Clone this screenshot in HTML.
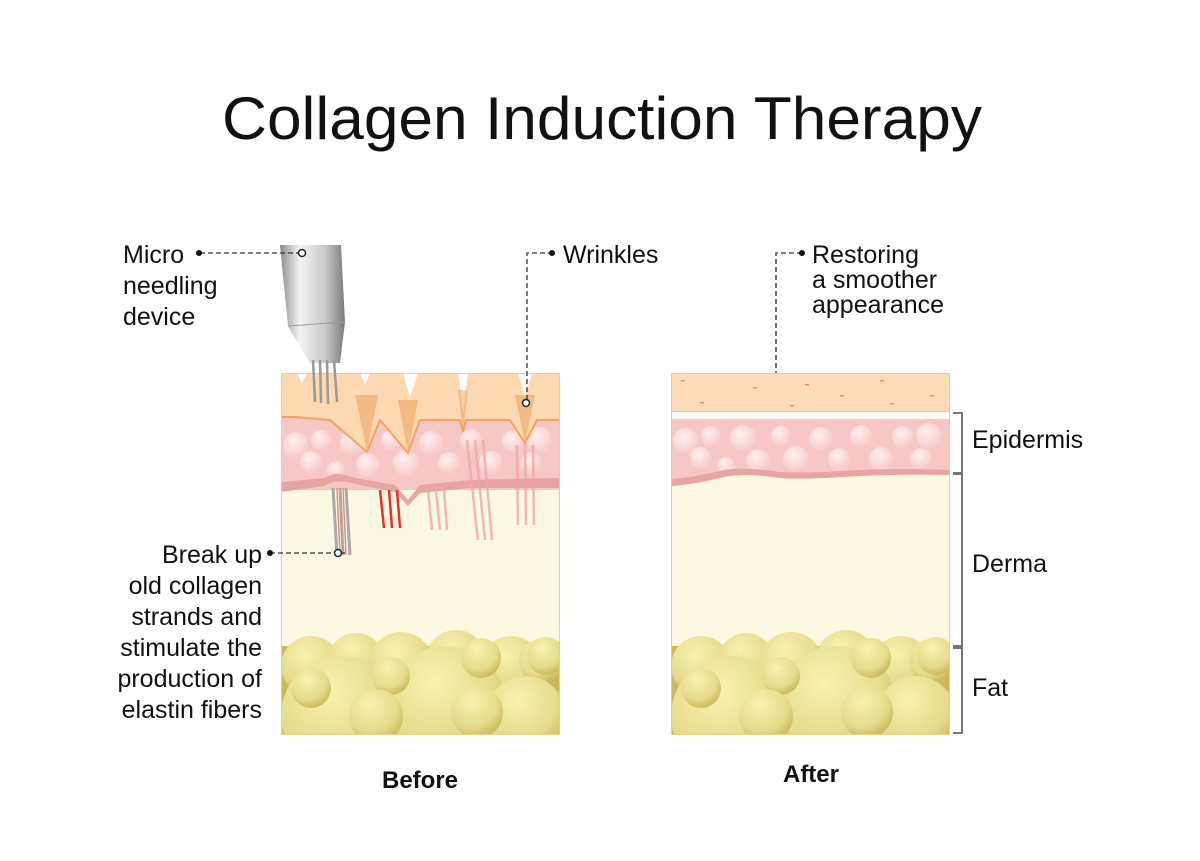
<!DOCTYPE html>
<html><head><meta charset="utf-8"><style>
html,body{margin:0;padding:0;background:#fff;}
svg{display:block}
text{font-family:"Liberation Sans",sans-serif;fill:#111}
</style></head><body>
<svg width="1200" height="861" viewBox="0 0 1200 861" xmlns="http://www.w3.org/2000/svg">
<defs>
<radialGradient id="fat" cx="0.4" cy="0.3" r="0.7"><stop offset="0" stop-color="#f8f3b0"/><stop offset="0.7" stop-color="#e6da8c"/><stop offset="1" stop-color="#cdbb5c"/></radialGradient>
<radialGradient id="cell" cx="0.4" cy="0.35" r="0.7"><stop offset="0" stop-color="#fff0ee"/><stop offset="1" stop-color="#f6c8c6"/></radialGradient>
<linearGradient id="dev" x1="0" x2="1"><stop offset="0" stop-color="#8a8a8a"/><stop offset="0.3" stop-color="#f4f4f4"/><stop offset="0.7" stop-color="#c8c8c8"/><stop offset="1" stop-color="#7a7a7a"/></linearGradient>
<clipPath id="cb"><rect x="281" y="373" width="279" height="362"/></clipPath>
<clipPath id="ca"><rect x="671" y="373" width="279" height="362"/></clipPath>
<g id="fatg">
<rect x="0" y="0" width="279" height="90" fill="#cdb75a"/>
<circle cx="30" cy="20" r="30" fill="url(#fat)"/><circle cx="75" cy="15" r="28" fill="url(#fat)"/>
<circle cx="120" cy="18" r="32" fill="url(#fat)"/><circle cx="175" cy="14" r="30" fill="url(#fat)"/>
<circle cx="230" cy="20" r="30" fill="url(#fat)"/><circle cx="260" cy="15" r="22" fill="url(#fat)"/>
<circle cx="60" cy="70" r="60" fill="url(#fat)"/><circle cx="165" cy="60" r="60" fill="url(#fat)"/>
<circle cx="245" cy="70" r="40" fill="url(#fat)"/><circle cx="30" cy="42" r="20" fill="url(#fat)"/>
<circle cx="110" cy="30" r="19" fill="url(#fat)"/><circle cx="200" cy="12" r="20" fill="url(#fat)"/>
<circle cx="95" cy="70" r="27" fill="url(#fat)"/><circle cx="196" cy="66" r="26" fill="url(#fat)"/>
<circle cx="265" cy="10" r="19" fill="url(#fat)"/>
</g>
<g id="cells">
<circle cx="15" cy="20" r="13" fill="url(#cell)"/><circle cx="40" cy="15" r="10" fill="url(#cell)"/><circle cx="30" cy="37" r="11" fill="url(#cell)"/>
<circle cx="72" cy="17" r="13" fill="url(#cell)"/><circle cx="87" cy="40" r="12" fill="url(#cell)"/><circle cx="110" cy="15" r="10" fill="url(#cell)"/>
<circle cx="125" cy="38" r="13" fill="url(#cell)"/><circle cx="150" cy="18" r="12" fill="url(#cell)"/><circle cx="168" cy="38" r="11" fill="url(#cell)"/>
<circle cx="190" cy="15" r="11" fill="url(#cell)"/><circle cx="210" cy="38" r="12" fill="url(#cell)"/><circle cx="232" cy="16" r="11" fill="url(#cell)"/>
<circle cx="258" cy="15" r="13" fill="url(#cell)"/><circle cx="250" cy="38" r="11" fill="url(#cell)"/><circle cx="55" cy="45" r="9" fill="url(#cell)"/>
</g>
</defs>

<text x="222" y="139" font-size="60" textLength="760" lengthAdjust="spacingAndGlyphs">Collagen Induction Therapy</text>

<!-- BEFORE -->
<g clip-path="url(#cb)">
<rect x="281" y="373" width="279" height="362" fill="#fcf9e3"/>
<rect x="281" y="405" width="279" height="85" fill="#f7c7c5"/>
<use href="#cells" x="281" y="425"/>
<path d="M281 482 L325 478 Q335 470 355 478 L395 485 L408 500 L420 485 L470 480 L560 478 L560 488 L470 488 L420 493 L408 506 L395 492 L355 484 Q335 478 325 486 L281 492Z" fill="#e8a4a0"/>
<path d="M281 373 H560 V420 L537 420 L525 443 L510 420 L466 420 L463 432 L460 420 L420 420 L408 453 L380 420 L367 452 L330 420 L295 417 L281 417Z" fill="#fcd8b3"/>
<path d="M281 417 L295 417 L330 420 L367 452 L380 420 L408 453 L420 420 L460 420 L463 432 L466 420 L510 420 L525 443 L537 420 L560 420" fill="none" stroke="#f4a460" stroke-width="2"/>
<path d="M281 373 L297 373 L302 383 L307 373 L360 373 L365 385 L370 373 L403 373 L410 397 L418 373 L458 373 L463 413 L468 373 L518 373 L525 397 L532 373Z" fill="#fff"/>
<path d="M355 395 L367 452 L378 395Z M398 400 L408 453 L418 400Z M458 390 L463 432 L468 390Z M515 395 L525 443 L535 395Z" fill="#e89a4a" opacity="0.45"/>
<g stroke="#e8302c" stroke-width="2.5"><line x1="380" y1="490" x2="384" y2="528"/><line x1="389" y1="490" x2="392" y2="528"/><line x1="397" y1="490" x2="400" y2="528"/></g>
<g stroke="#f0a7a3" stroke-width="2.5" opacity="0.8"><line x1="428" y1="490" x2="432" y2="530"/><line x1="436" y1="490" x2="440" y2="530"/><line x1="444" y1="490" x2="447" y2="530"/>
<line x1="467" y1="440" x2="478" y2="540"/><line x1="475" y1="440" x2="485" y2="540"/><line x1="483" y1="440" x2="492" y2="540"/>
<line x1="517" y1="445" x2="518" y2="525"/><line x1="525" y1="445" x2="526" y2="525"/><line x1="533" y1="445" x2="534" y2="525"/></g>
<rect x="281" y="646" width="279" height="89" fill="#cdb75a"/>
<use href="#fatg" x="281" y="646"/>
</g>
<rect x="281.5" y="373.5" width="278" height="361" fill="none" stroke="#e4d38c" stroke-width="1"/>
<!-- device -->
<path d="M280 245 L341 245 L345 322 L340 363 L310 363 L288 326 Z" fill="url(#dev)"/>
<path d="M288 326 L345 322" stroke="#999" stroke-width="1"/>
<g stroke="#9a9a9a" stroke-width="2.5"><line x1="313" y1="360" x2="315" y2="402"/><line x1="320" y1="360" x2="321" y2="403"/><line x1="327" y1="360" x2="328" y2="404"/><line x1="334" y1="360" x2="337" y2="402"/></g>
<g stroke="#aaa" stroke-width="3"><line x1="333" y1="488" x2="337" y2="555"/><line x1="340" y1="488" x2="343" y2="555"/><line x1="346" y1="488" x2="350" y2="555"/></g>
<g stroke="#f08a78" stroke-width="1.5"><line x1="337" y1="488" x2="340" y2="555"/><line x1="343" y1="488" x2="346" y2="555"/></g>
<g stroke="#333" stroke-width="1.3" stroke-dasharray="5,3" fill="none">
<path d="M200 253 H300"/><path d="M270 553 H345"/><path d="M553 253 H527 V400"/>
<path d="M802 253 H776 V378"/></g>
<g fill="#111"><circle cx="199" cy="253" r="3"/><circle cx="270" cy="553" r="3"/><circle cx="552" cy="253" r="3"/><circle cx="802" cy="253" r="3"/></g>
<g fill="#fff" stroke="#222" stroke-width="1.5"><circle cx="302" cy="253" r="3.5"/><circle cx="338" cy="553" r="3.5"/><circle cx="526" cy="403" r="3.5"/><circle cx="776" cy="380" r="3.5"/></g>

<!-- AFTER -->
<g clip-path="url(#ca)">
<rect x="671" y="373" width="279" height="362" fill="#fcf9e3"/>
<rect x="671" y="373" width="279" height="39" fill="#fddbb9"/>
<line x1="671" y1="412" x2="950" y2="412" stroke="#f5b47c" stroke-width="1.5"/>
<rect x="671" y="412" width="279" height="7" fill="#fffaf5"/>
<path d="M671 419 H950 V473 Q900 472 860 474 Q800 478 780 476 Q740 470 720 475 Q690 482 671 483Z" fill="#f7c7c5"/>
<use href="#cells" x="671" y="421"/>
<path d="M671 479 Q690 478 720 471 Q740 466 780 472 Q800 474 860 470 Q900 468 950 470 L950 475 Q900 474 860 476 Q800 480 780 478 Q740 472 720 478 Q690 485 671 486Z" fill="#e8a4a0"/>
<rect x="671" y="646" width="279" height="89" fill="#cdb75a"/>
<use href="#fatg" x="671" y="646"/>
</g>
<rect x="671.5" y="373.5" width="278" height="361" fill="none" stroke="#e4d38c" stroke-width="1"/>
<g fill="#e9955a"><rect x="681" y="380" width="4" height="1.5"/><rect x="753" y="387" width="4" height="1.5"/><rect x="805" y="384" width="4" height="1.5"/><rect x="840" y="395" width="4" height="1.5"/><rect x="880" y="380" width="4" height="1.5"/><rect x="700" y="402" width="4" height="1.5"/><rect x="790" y="405" width="4" height="1.5"/><rect x="890" y="403" width="4" height="1.5"/><rect x="930" y="395" width="4" height="1.5"/></g>
<g stroke="#777" stroke-width="2" fill="none">
<path d="M953 413 H962 V473 H953"/><path d="M953 474 H962 V646 H953"/><path d="M953 648 H962 V733 H953"/></g>

<g font-size="25">
<text x="123" y="263">Micro</text><text x="123" y="294">needling</text><text x="123" y="325">device</text>
<text x="563" y="263">Wrinkles</text>
<text x="812" y="263">Restoring</text><text x="812" y="288">a smoother</text><text x="812" y="313">appearance</text>
<g text-anchor="end"><text x="262" y="563">Break up</text><text x="262" y="594">old collagen</text><text x="262" y="625">strands and</text><text x="262" y="656">stimulate the</text><text x="262" y="687">production of</text><text x="262" y="718">elastin fibers</text></g>
<text x="972" y="448">Epidermis</text><text x="972" y="572">Derma</text><text x="972" y="696">Fat</text>
</g>
<text x="420" y="788" font-size="24" font-weight="bold" text-anchor="middle">Before</text>
<text x="811" y="782" font-size="24" font-weight="bold" text-anchor="middle">After</text>
</svg>
</body></html>
